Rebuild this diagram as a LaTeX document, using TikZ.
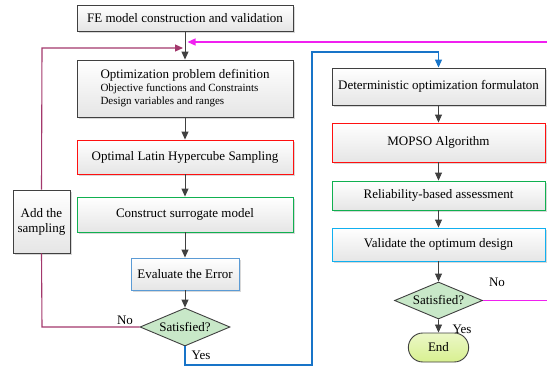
\documentclass[tikz,border=0pt]{standalone}
\usepackage{fontspec}
\setmainfont{Liberation Serif}
\usetikzlibrary{positioning,shapes.geometric,shapes.misc,arrows.meta,shadows}

\definecolor{linegray}{HTML}{404040}
\definecolor{loopmag}{HTML}{F020F0}
\definecolor{looppur}{HTML}{A3386C}
\definecolor{loopblue}{HTML}{1874C8}
\definecolor{boxred}{HTML}{FF1010}
\definecolor{boxgreen}{HTML}{10B050}
\definecolor{boxblue}{HTML}{5B9BD5}
\definecolor{boxcyan}{HTML}{10B0F0}
\definecolor{decfill}{HTML}{C8E8C8}
\definecolor{endfill}{HTML}{D8F090}

\tikzset{
  box/.style={draw=linegray, line width=0.9pt, top color=white, bottom color=gray!20,
    drop shadow={shadow xshift=1.5pt, shadow yshift=-1.5pt, fill=gray!60, opacity=0.5},
    inner sep=2pt, font=\fontsize{13}{15}\selectfont},
  decision/.style={diamond, draw=linegray, line width=0.9pt, fill=decfill, inner sep=0pt,
    aspect=2.4, font=\fontsize{13}{15}\selectfont},
  lbl/.style={font=\fontsize{13}{15}\selectfont, inner sep=1pt},
  flow/.style={->, draw=linegray, line width=0.9pt}
}

\begin{document}
\begin{tikzpicture}[x=1pt, y=-1pt, >={Triangle[length=8pt,width=7pt]}]
\useasboundingbox (0,0) rectangle (547,367);

\def\xl{185}
\def\xr{438.5}
\def\wl{216pt}
\def\wr{213pt}

\node[box, minimum width=\wl, minimum height=26pt] (fe) at (\xl,18) {FE model construction and validation};
\node[box, minimum width=\wl, minimum height=57pt, align=left] (opt) at (\xl,88.5)
  {Optimization problem definition\\[-2pt]
   {\fontsize{11}{12.5}\selectfont Objective functions and Constraints}\\[-2pt]
   {\fontsize{11}{12.5}\selectfont Design variables and ranges}};
\node[box, draw=boxred, minimum width=\wl, minimum height=34pt] (olhs) at (\xl,157) {Optimal Latin Hypercube Sampling};
\node[box, draw=boxgreen, minimum width=\wl, minimum height=35pt] (sur) at (\xl,214.5) {Construct surrogate model};
\node[box, draw=boxblue, minimum width=108pt, minimum height=32pt] (err) at (\xl,274) {Evaluate the Error};
\node[decision, minimum width=90pt, minimum height=38pt] (sat1) at (\xl,327) {Satisfied?};
\node[box, minimum width=57pt, minimum height=63pt, align=center] (add) at (41.5,221.5) {Add the\\sampling};

\node[box, minimum width=\wr, minimum height=37pt] (det) at (\xr,86.5) {Deterministic optimization formulaton};
\node[box, draw=boxred, minimum width=\wr, minimum height=39pt] (mopso) at (\xr,142.5) {MOPSO Algorithm};
\node[box, draw=boxgreen, minimum width=\wr, minimum height=29pt] (rel) at (\xr,195.5) {Reliability-based assessment};
\node[box, draw=boxcyan, minimum width=\wr, minimum height=33pt] (val) at (\xr,244.5) {Validate the optimum design};
\node[decision, minimum width=88pt, minimum height=37pt] (sat2) at (\xr,300.5) {Satisfied?};
\node[rounded rectangle, draw=linegray, line width=0.9pt, top color=endfill!50, bottom color=endfill,
  minimum width=67pt, minimum height=29pt, font=\fontsize{13}{15}\selectfont] (fin) at (\xr,347.5) {End};

\coordinate (magtip) at (187.5,42);
\coordinate (magc1) at (560,300.5);
\coordinate (magc2) at (560,42);
\coordinate (purtip) at (183,48);
\coordinate (purc) at (42,48);
\coordinate (purb) at (42,327);
\coordinate (bl1) at (\xl,365);
\coordinate (bl2) at (312,365);
\coordinate (bl3) at (312,52);
\coordinate (bl4) at (\xr,52);

\draw[flow] (fe) -- (opt);
\draw[flow] (opt) -- (olhs);
\draw[flow] (olhs) -- (sur);
\draw[flow] (sur) -- (err);
\draw[flow] (err) -- (sat1);
\draw[flow] (det) -- (mopso);
\draw[flow] (mopso) -- (rel);
\draw[flow] (rel) -- (val);
\draw[flow] (val) -- (sat2);
\draw[flow] (sat2) -- (fin);

\draw[->, draw=loopmag, line width=1.1pt] (sat2.east) -- (magc1) -- (magc2) -- (magtip);
\draw[->, draw=looppur, line width=1.1pt] (add.north) -- (purc) -- (purtip);
\draw[draw=looppur, line width=1.1pt] (add.south) -- (purb) -- (sat1.west);
\draw[->, draw=loopblue, line width=1.1pt] (sat1.south) -- (bl1) -- (bl2) -- (bl3) -- (bl4) -- (det.north);

\node[lbl] at (125,320) {No};
\node[lbl] at (201,355) {Yes};
\node[lbl] at (497,282) {No};
\node[lbl] at (462,329) {Yes};
\end{tikzpicture}
\end{document}
